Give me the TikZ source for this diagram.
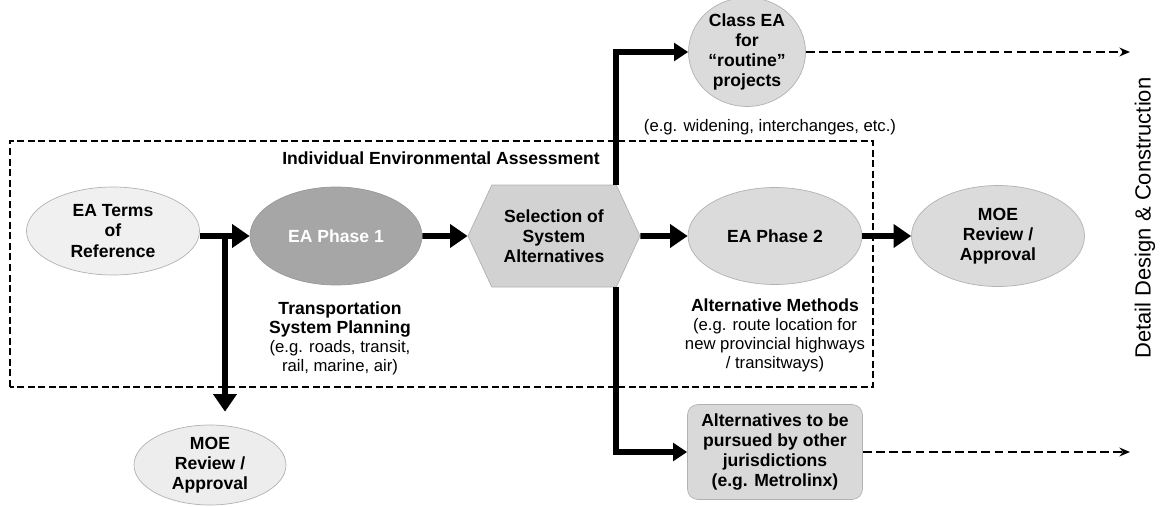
\documentclass[tikz,border=0pt]{standalone}
\usepackage{fontspec}
\setmainfont{Liberation Sans}
\usepackage{tikz}
\usetikzlibrary{positioning}
\usetikzlibrary{calc}
\usetikzlibrary{arrows.meta}
\usetikzlibrary{shapes.geometric}
\usetikzlibrary{shapes.symbols}

\tikzset{
  oval/.style={ellipse, draw=gray!60, fill=gray!22, inner sep=0pt, align=center, font=\bfseries\fontsize{10}{11.5}\selectfont},
  flow/.style={line width=3.4pt, -{Triangle[length=10pt,width=13pt]}},
  branch/.style={line width=3pt, -{Triangle[length=8pt,width=10pt]}},
  later/.style={line width=1.1pt, dash pattern=on 5pt off 2.5pt, -{Stealth[length=6pt,width=5pt]}},
  note/.style={align=center, font=\fontsize{9.5}{10.8}\selectfont},
}

\begin{document}
\begin{tikzpicture}
  \useasboundingbox (0,0) rectangle (23.34,10.12);

  \draw[line width=0.8pt, dash pattern=on 4pt off 2pt] (0.20,2.38) rectangle (17.46,7.30);
  \node[font=\bfseries\fontsize{10}{11.5}\selectfont] (iea) at (8.82,6.96) {Individual Environmental Assessment};

  \node[oval, fill=gray!12, minimum width=3.46cm, minimum height=1.76cm] (terms) at (2.26,5.50) {EA Terms\\of\\Reference};
  \node[oval, fill=gray!70, draw=gray!80, text=white, minimum width=3.44cm, minimum height=1.96cm] (phase1) at (6.72,5.40) {EA Phase 1};
  \node[signal, signal to=west and east, signal pointer angle=130, draw=gray!60, fill=gray!35, inner sep=0pt, align=center, font=\bfseries\fontsize{10}{11.5}\selectfont, minimum width=3.44cm, minimum height=2.04cm] (select) at (11.08,5.40) {Selection of\\System\\Alternatives};
  \node[oval, fill=gray!28, minimum width=3.48cm, minimum height=1.94cm] (phase2) at (15.50,5.40) {EA Phase 2};
  \node[oval, fill=gray!28, minimum width=3.46cm, minimum height=2.02cm] (moeR) at (19.96,5.40) {MOE\\Review /\\Approval};
  \node[oval, fill=gray!14, minimum width=3.04cm, minimum height=1.60cm] (moeL) at (4.20,0.82) {MOE\\Review /\\Approval};
  \node[oval, fill=gray!28, minimum width=2.34cm, minimum height=1.90cm] (classea) at (14.94,9.08) {Class EA\\for\\``routine''\\projects};
  \node[rectangle, rounded corners=6pt, draw=gray!60, fill=gray!30, align=center, font=\bfseries\fontsize{10}{11.5}\selectfont, minimum width=3.50cm, minimum height=1.90cm] (others) at (15.50,1.08) {Alternatives to be\\pursued by other\\jurisdictions\\(e.g. Metrolinx)};

  \node[note] (classnote) at (15.40,7.58) {(e.g. widening, interchanges, etc.)};
  \node[note] (tsp) at (6.80,3.36) {\textbf{\fontsize{10}{10.8}\selectfont Transportation}\\\textbf{\fontsize{10}{10.8}\selectfont System Planning}\\(e.g. roads, transit,\\rail, marine, air)};
  \node[note] (altm) at (15.50,3.42) {\textbf{\fontsize{10}{10.8}\selectfont Alternative Methods}\\(e.g. route location for\\new provincial highways\\/ transitways)};
  \node[rotate=90, font=\fontsize{12.5}{14}\selectfont] (detail) at (22.90,5.76) {Detail Design \& Construction};

  \coordinate (fork) at (4.50,5.40);
  \coordinate (endA) at (22.60,9.08);
  \coordinate (endB) at (22.60,1.08);

  \draw[flow] (terms.east |- phase1) -- (phase1.west);
  \draw[flow] (fork) -- ([yshift=0.26cm]fork |- moeL.north);
  \draw[flow] (phase1) -- (select);
  \draw[flow] (select) -- (phase2);
  \draw[flow] (phase2) -- (moeR);
  \draw[branch] ([xshift=1.24cm]select.north) |- (classea.west);
  \draw[branch] ([xshift=1.24cm]select.south) |- (others.west);
  \draw[later] (classea.east) -- (endA);
  \draw[later] (others.east) -- (endB);
\end{tikzpicture}
\end{document}
